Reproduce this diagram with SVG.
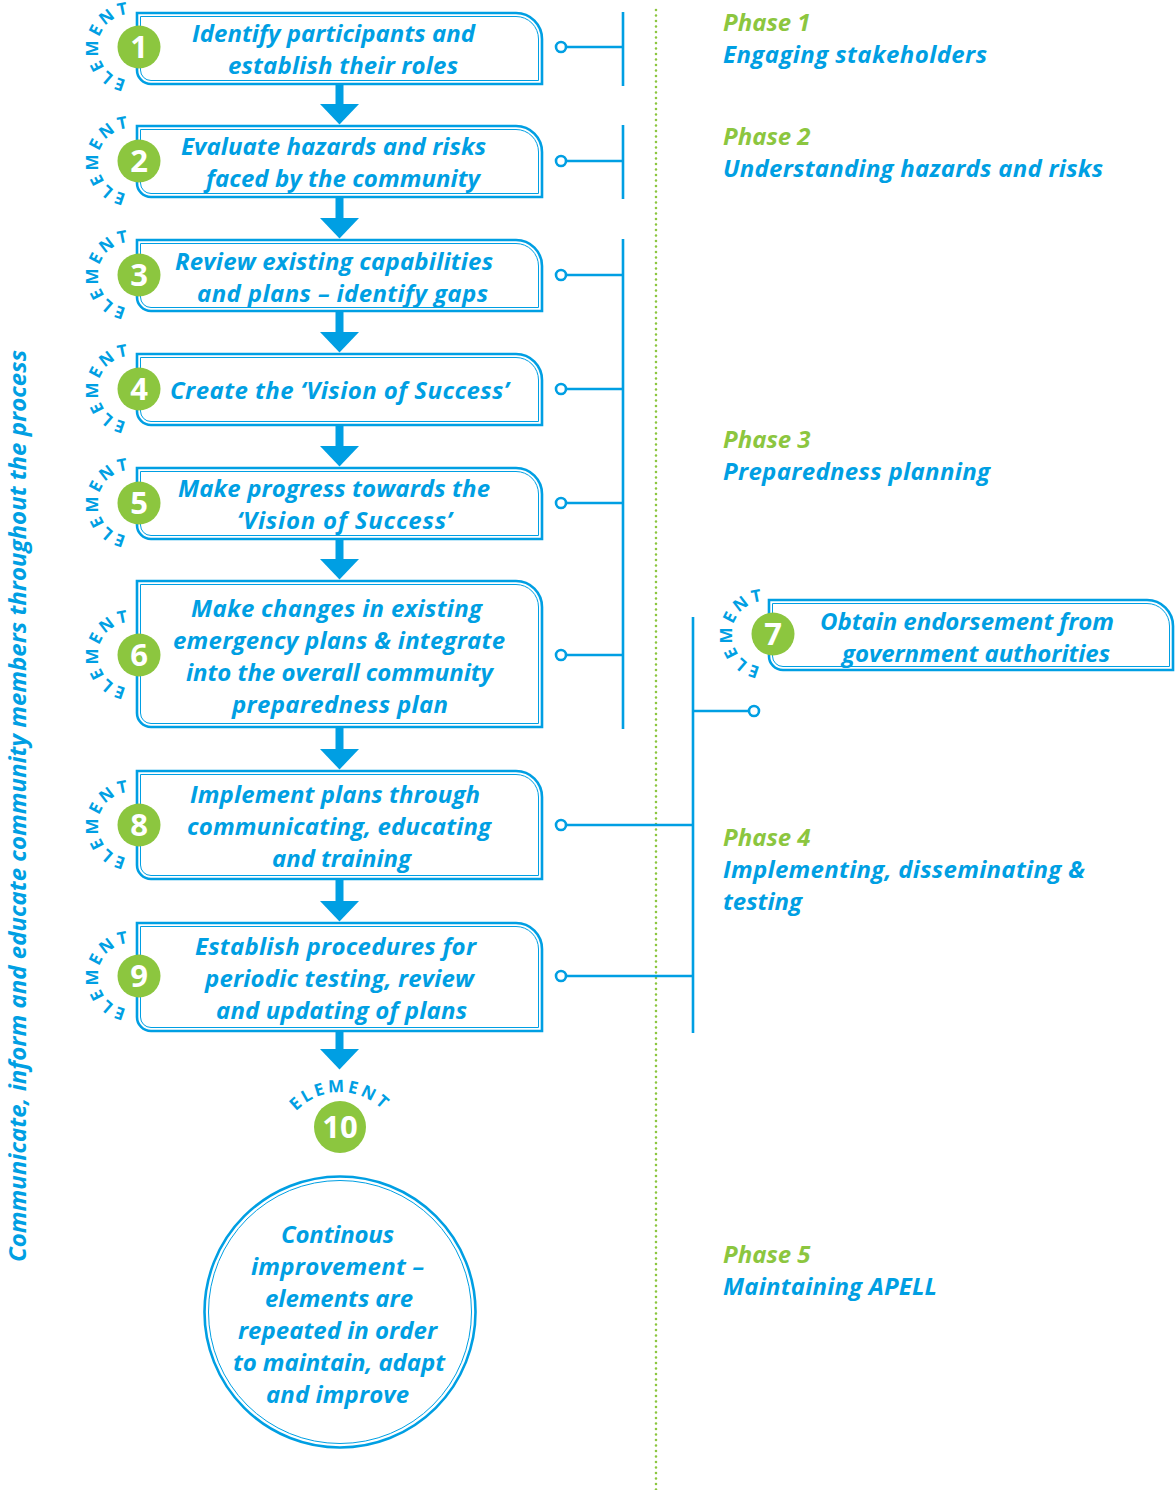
<svg xmlns="http://www.w3.org/2000/svg" width="1176" height="1490" viewBox="0 0 1176 1490">
<style>
.box{fill:#fff;stroke:#009FE3;stroke-width:2.6}
.inner{fill:none;stroke:#009FE3;stroke-width:1}
.t{font-family:"Open Sans","Liberation Sans",sans-serif;font-weight:bold;font-style:italic;font-size:24px;fill:#009FE3;text-anchor:middle}
.ph{font-family:"Open Sans","Liberation Sans",sans-serif;font-weight:bold;font-style:italic;font-size:24px}
.pg{fill:#8CC63F}
.pb{fill:#009FE3}
.badge{fill:#8CC63F}
.num{font-family:"Open Sans","Liberation Sans",sans-serif;font-weight:bold;font-size:31px;fill:#fff;text-anchor:middle}
.el{font-family:"Open Sans","Liberation Sans",sans-serif;font-weight:bold;font-size:17px;fill:#009FE3;letter-spacing:3px}
.ln{stroke:#009FE3;stroke-width:2.6;fill:none}
.dot{fill:#fff;stroke:#009FE3;stroke-width:2.6}
.arr{stroke:#009FE3;stroke-width:8;fill:none}
</style>
<defs>
<marker id="ah" viewBox="0 0 21 40" refX="0.5" refY="20" markerWidth="21" markerHeight="40" markerUnits="userSpaceOnUse" orient="auto">
<path d="M0 0 L21 20 L0 40 Z" fill="#009FE3"/>
</marker>
<path id="a1" d="M136.7 79.5 A33 33 0 1 1 141.2 15.6"/>
<path id="a2" d="M136.7 193.5 A33 33 0 1 1 141.2 129.6"/>
<path id="a3" d="M136.7 307.5 A33 33 0 1 1 141.2 243.6"/>
<path id="a4" d="M136.7 421.5 A33 33 0 1 1 141.2 357.6"/>
<path id="a5" d="M136.7 535.5 A33 33 0 1 1 141.2 471.6"/>
<path id="a6" d="M136.7 687.5 A33 33 0 1 1 141.2 623.6"/>
<path id="a7" d="M770.7 666.5 A33 33 0 1 1 775.2 602.6"/>
<path id="a8" d="M136.7 857.5 A33 33 0 1 1 141.2 793.6"/>
<path id="a9" d="M136.7 1008.5 A33 33 0 1 1 141.2 944.6"/>
<path id="a10" d="M283.5 1132 A60 60 0 0 1 396.5 1132"/>
</defs>

<g id="connectors">
<line x1="656" y1="10" x2="656" y2="1490" stroke="#8CC63F" stroke-width="2.6" stroke-linecap="round" stroke-dasharray="0 5.5"/>
<line class="arr" x1="339.5" y1="84" x2="339.5" y2="104" marker-end="url(#ah)"/>
<line class="arr" x1="339.5" y1="197" x2="339.5" y2="218" marker-end="url(#ah)"/>
<line class="arr" x1="339.5" y1="311" x2="339.5" y2="332" marker-end="url(#ah)"/>
<line class="arr" x1="339.5" y1="425" x2="339.5" y2="446" marker-end="url(#ah)"/>
<line class="arr" x1="339.5" y1="539" x2="339.5" y2="559" marker-end="url(#ah)"/>
<line class="arr" x1="339.5" y1="727" x2="339.5" y2="749" marker-end="url(#ah)"/>
<line class="arr" x1="339.5" y1="879" x2="339.5" y2="901" marker-end="url(#ah)"/>
<line class="arr" x1="339.5" y1="1031" x2="339.5" y2="1049" marker-end="url(#ah)"/>
<line class="ln" x1="623" y1="12" x2="623" y2="86"/>
<line class="ln" x1="566" y1="47" x2="623" y2="47"/>
<line class="ln" x1="623" y1="125" x2="623" y2="199"/>
<line class="ln" x1="566" y1="161" x2="623" y2="161"/>
<line class="ln" x1="623" y1="239" x2="623" y2="729"/>
<line class="ln" x1="566" y1="275" x2="623" y2="275"/>
<line class="ln" x1="566" y1="389" x2="623" y2="389"/>
<line class="ln" x1="566" y1="503" x2="623" y2="503"/>
<line class="ln" x1="566" y1="655" x2="623" y2="655"/>
<line class="ln" x1="693" y1="617" x2="693" y2="1033"/>
<line class="ln" x1="566" y1="825" x2="693" y2="825"/>
<line class="ln" x1="566" y1="976" x2="693" y2="976"/>
<line class="ln" x1="693" y1="711" x2="749" y2="711"/>
<circle class="dot" cx="561" cy="47" r="5"/>
<circle class="dot" cx="561" cy="161" r="5"/>
<circle class="dot" cx="561" cy="275" r="5"/>
<circle class="dot" cx="561" cy="389" r="5"/>
<circle class="dot" cx="561" cy="503" r="5"/>
<circle class="dot" cx="561" cy="655" r="5"/>
<circle class="dot" cx="561" cy="825" r="5"/>
<circle class="dot" cx="561" cy="976" r="5"/>
<circle class="dot" cx="754" cy="711" r="5"/>
</g>

<g id="element1">
<path class="box" d="M137 13 H516 A26 26 0 0 1 542 39 V84 H151 A14 14 0 0 1 137 70 Z"/>
<path class="inner" d="M140.5 16.5 H516 A22.5 22.5 0 0 1 538.5 39 V80.5 H151 A10.5 10.5 0 0 1 140.5 70 Z"/>
<text class="el"><textPath href="#a1" startOffset="50%" text-anchor="middle">ELEMENT</textPath></text>
<circle class="badge" cx="139" cy="47" r="21.5"/>
<text class="num" x="139" y="58">1</text>
<text class="t" x="333.5" y="42" textLength="283">Identify participants and</text>
<text class="t" x="343" y="74" textLength="230">establish their roles</text>
</g>

<g id="element2">
<path class="box" d="M137 126 H516 A26 26 0 0 1 542 152 V197 H151 A14 14 0 0 1 137 183 Z"/>
<path class="inner" d="M140.5 129.5 H516 A22.5 22.5 0 0 1 538.5 152 V193.5 H151 A10.5 10.5 0 0 1 140.5 183 Z"/>
<text class="el"><textPath href="#a2" startOffset="50%" text-anchor="middle">ELEMENT</textPath></text>
<circle class="badge" cx="139" cy="161" r="21.5"/>
<text class="num" x="139" y="172">2</text>
<text class="t" x="333.5" y="155" textLength="305">Evaluate hazards and risks</text>
<text class="t" x="343" y="187" textLength="274">faced by the community</text>
</g>

<g id="element3">
<path class="box" d="M137 240 H516 A26 26 0 0 1 542 266 V311 H151 A14 14 0 0 1 137 297 Z"/>
<path class="inner" d="M140.5 243.5 H516 A22.5 22.5 0 0 1 538.5 266 V307.5 H151 A10.5 10.5 0 0 1 140.5 297 Z"/>
<text class="el"><textPath href="#a3" startOffset="50%" text-anchor="middle">ELEMENT</textPath></text>
<circle class="badge" cx="139" cy="275" r="21.5"/>
<text class="num" x="139" y="286">3</text>
<text class="t" x="334" y="270" textLength="318">Review existing capabilities</text>
<text class="t" x="342.5" y="302" textLength="291">and plans – identify gaps</text>
</g>

<g id="element4">
<path class="box" d="M137 354 H516 A26 26 0 0 1 542 380 V425 H151 A14 14 0 0 1 137 411 Z"/>
<path class="inner" d="M140.5 357.5 H516 A22.5 22.5 0 0 1 538.5 380 V421.5 H151 A10.5 10.5 0 0 1 140.5 411 Z"/>
<text class="el"><textPath href="#a4" startOffset="50%" text-anchor="middle">ELEMENT</textPath></text>
<circle class="badge" cx="139" cy="389" r="21.5"/>
<text class="num" x="139" y="400">4</text>
<text class="t" x="339.5" y="399" textLength="339">Create the ‘Vision of Success’</text>
</g>

<g id="element5">
<path class="box" d="M137 468 H516 A26 26 0 0 1 542 494 V539 H151 A14 14 0 0 1 137 525 Z"/>
<path class="inner" d="M140.5 471.5 H516 A22.5 22.5 0 0 1 538.5 494 V535.5 H151 A10.5 10.5 0 0 1 140.5 525 Z"/>
<text class="el"><textPath href="#a5" startOffset="50%" text-anchor="middle">ELEMENT</textPath></text>
<circle class="badge" cx="139" cy="503" r="21.5"/>
<text class="num" x="139" y="514">5</text>
<text class="t" x="334" y="497" textLength="312">Make progress towards the</text>
<text class="t" x="344.5" y="529" textLength="215">‘Vision of Success’</text>
</g>

<g id="element6">
<path class="box" d="M137 581 H516 A26 26 0 0 1 542 607 V727 H151 A14 14 0 0 1 137 713 Z"/>
<path class="inner" d="M140.5 584.5 H516 A22.5 22.5 0 0 1 538.5 607 V723.5 H151 A10.5 10.5 0 0 1 140.5 713 Z"/>
<text class="el"><textPath href="#a6" startOffset="50%" text-anchor="middle">ELEMENT</textPath></text>
<circle class="badge" cx="139" cy="655" r="21.5"/>
<text class="num" x="139" y="666">6</text>
<text class="t" x="336.5" y="617" textLength="291">Make changes in existing</text>
<text class="t" x="339" y="649" textLength="332">emergency plans &amp; integrate</text>
<text class="t" x="339.5" y="681" textLength="307">into the overall community</text>
<text class="t" x="340" y="713" textLength="216">preparedness plan</text>
</g>

<g id="element7">
<path class="box" d="M769 600 H1147 A26 26 0 0 1 1173 626 V670 H783 A14 14 0 0 1 769 656 Z"/>
<path class="inner" d="M772.5 603.5 H1147 A22.5 22.5 0 0 1 1169.5 626 V666.5 H783 A10.5 10.5 0 0 1 772.5 656 Z"/>
<text class="el"><textPath href="#a7" startOffset="50%" text-anchor="middle">ELEMENT</textPath></text>
<circle class="badge" cx="773" cy="634" r="21.5"/>
<text class="num" x="773" y="645">7</text>
<text class="t" x="967" y="630" textLength="294">Obtain endorsement from</text>
<text class="t" x="976" y="662" textLength="268">government authorities</text>
</g>

<g id="element8">
<path class="box" d="M137 771 H516 A26 26 0 0 1 542 797 V879 H151 A14 14 0 0 1 137 865 Z"/>
<path class="inner" d="M140.5 774.5 H516 A22.5 22.5 0 0 1 538.5 797 V875.5 H151 A10.5 10.5 0 0 1 140.5 865 Z"/>
<text class="el"><textPath href="#a8" startOffset="50%" text-anchor="middle">ELEMENT</textPath></text>
<circle class="badge" cx="139" cy="825" r="21.5"/>
<text class="num" x="139" y="836">8</text>
<text class="t" x="335" y="803" textLength="290">Implement plans through</text>
<text class="t" x="339" y="835" textLength="304">communicating, educating</text>
<text class="t" x="341.5" y="867" textLength="139">and training</text>
</g>

<g id="element9">
<path class="box" d="M137 923 H516 A26 26 0 0 1 542 949 V1031 H151 A14 14 0 0 1 137 1017 Z"/>
<path class="inner" d="M140.5 926.5 H516 A22.5 22.5 0 0 1 538.5 949 V1027.5 H151 A10.5 10.5 0 0 1 140.5 1017 Z"/>
<text class="el"><textPath href="#a9" startOffset="50%" text-anchor="middle">ELEMENT</textPath></text>
<circle class="badge" cx="139" cy="976" r="21.5"/>
<text class="num" x="139" y="987">9</text>
<text class="t" x="335.5" y="955" textLength="281">Establish procedures for</text>
<text class="t" x="339.5" y="987" textLength="269">periodic testing, review</text>
<text class="t" x="341.5" y="1019" textLength="251">and updating of plans</text>
</g>

<g id="element10">
<text class="el"><textPath href="#a10" startOffset="50%" text-anchor="middle">ELEMENT</textPath></text>
<circle class="badge" cx="340" cy="1127" r="26"/>
<text class="num" x="340" y="1138">10</text>
</g>

<g id="improvement">
<circle cx="340" cy="1312" r="135.5" fill="#fff" stroke="#009FE3" stroke-width="2.6"/>
<circle cx="340" cy="1312" r="131.5" fill="none" stroke="#009FE3" stroke-width="1"/>
<text class="t" x="337.5" y="1243" textLength="113">Continous</text>
<text class="t" x="337.5" y="1275" textLength="173">improvement –</text>
<text class="t" x="339" y="1307" textLength="148">elements are</text>
<text class="t" x="337.5" y="1339" textLength="199">repeated in order</text>
<text class="t" x="339" y="1371" textLength="212">to maintain, adapt</text>
<text class="t" x="337.5" y="1403" textLength="143">and improve</text>
</g>

<g id="phases" class="ph">
<text class="pg" x="723" y="31">Phase 1</text>
<text class="pb" x="723" y="63" textLength="264">Engaging stakeholders</text>
<text class="pg" x="723" y="145">Phase 2</text>
<text class="pb" x="723" y="177" textLength="380">Understanding hazards and risks</text>
<text class="pg" x="723" y="448">Phase 3</text>
<text class="pb" x="723" y="480" textLength="267">Preparedness planning</text>
<text class="pg" x="723" y="846">Phase 4</text>
<text class="pb" x="723" y="878" textLength="362">Implementing, disseminating &amp;</text>
<text class="pb" x="723" y="910" textLength="79">testing</text>
<text class="pg" x="723" y="1263">Phase 5</text>
<text class="pb" x="723" y="1295" textLength="214">Maintaining APELL</text>
</g>

<g id="side-label">
<text class="t" font-size="23" transform="translate(26,806) rotate(-90)" x="0" y="0" textLength="912">Communicate, inform and educate community members throughout the process</text>
</g>
</svg>
